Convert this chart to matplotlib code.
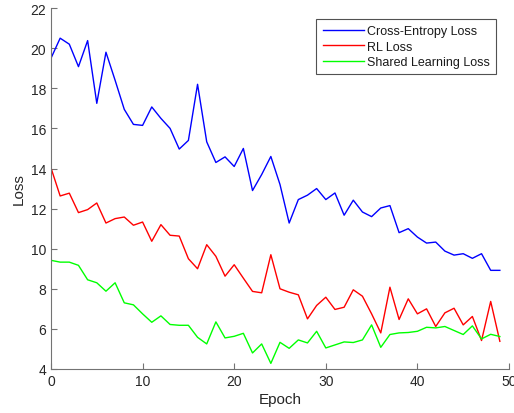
import numpy as np
import matplotlib
matplotlib.use('Agg')
import matplotlib.pyplot as plt

# 数据
epochs = np.arange(50)
ce_loss = [19.5, 20.5, 20.2, 19.08, 20.38, 17.25, 19.8, 18.4, 16.95, 16.2,
           16.15, 17.07, 16.5, 16.0, 14.97, 15.4, 18.2, 15.33, 14.3, 14.58,
           14.1, 15.0, 12.9, 13.7, 14.6, 13.2, 11.28, 12.45, 12.67, 13.0,
           12.45, 12.78, 11.67, 12.42, 11.83, 11.6, 12.03, 12.15, 10.8, 11.0,
           10.58, 10.28, 10.33, 9.88, 9.68, 9.75, 9.52, 9.75, 8.92, 8.92]
rl_loss = [14.03, 12.63, 12.77, 11.8, 11.95, 12.28, 11.28, 11.5, 11.58, 11.17,
           11.33, 10.37, 11.2, 10.67, 10.63, 9.5, 9.0, 10.2, 9.62, 8.63,
           9.2, 8.53, 7.87, 7.8, 9.7, 8.0, 7.83, 7.7, 6.5, 7.17,
           7.58, 6.97, 7.08, 7.95, 7.63, 6.75, 5.8, 8.08, 6.47, 7.5,
           6.75, 7.0, 6.12, 6.8, 7.03, 6.2, 6.62, 5.42, 7.37, 5.38]
shared_loss = [9.42, 9.33, 9.33, 9.17, 8.45, 8.3, 7.88, 8.3, 7.3, 7.2,
               6.75, 6.33, 6.65, 6.22, 6.18, 6.18, 5.58, 5.25, 6.35, 5.55,
               5.63, 5.78, 4.8, 5.25, 4.28, 5.33, 5.03, 5.45, 5.3, 5.88,
               5.05, 5.2, 5.35, 5.32, 5.45, 6.2, 5.08, 5.72, 5.8, 5.82,
               5.88, 6.08, 6.05, 6.12, 5.92, 5.72, 6.15, 5.5, 5.73, 5.62]
labels = ['Cross-Entropy Loss', 'RL Loss', 'Shared Learning Loss']

plt.rcParams['font.family'] = ['Liberation Sans', 'DejaVu Sans']
txt_color = '0.15'
axis_color = '0.45'

fig = plt.figure(figsize=(5.14, 4.14), dpi=100)
ax = fig.add_axes([0.0992, 0.1063, 0.8911, 0.8717])

ax.plot(epochs, ce_loss, color='#0000ff', lw=1.0, label=labels[0])
ax.plot(epochs, rl_loss, color='#ff0000', lw=1.0, label=labels[1])
ax.plot(epochs, shared_loss, color='#00ff00', lw=1.0, label=labels[2])

ax.set_xlim(0, 50)
ax.set_ylim(4, 22)
ax.set_xticks(range(0, 51, 10))
ax.set_yticks(range(4, 23, 2))
ax.spines['top'].set_visible(False)
ax.spines['right'].set_visible(False)
for s in ['left', 'bottom']:
    ax.spines[s].set_color(axis_color)
    ax.spines[s].set_linewidth(0.8)
ax.tick_params(direction='in', length=4, width=0.8, color=axis_color,
               labelcolor=txt_color, labelsize=10)
ax.set_xlabel('Epoch', fontsize=11, color=txt_color, labelpad=3)
ax.set_ylabel('Loss', fontsize=11, color=txt_color, labelpad=3)

leg = ax.legend(loc='upper right', bbox_to_anchor=(0.972, 0.97), fontsize=9,
                frameon=True, fancybox=False, handlelength=3.3,
                handletextpad=0.25, borderpad=0.5, labelspacing=0.27,
                borderaxespad=0)
leg.get_frame().set_edgecolor('0.15')
leg.get_frame().set_linewidth(0.8)
for t in leg.get_texts():
    t.set_color('0.1')

fig.savefig('out.png', dpi=100)
